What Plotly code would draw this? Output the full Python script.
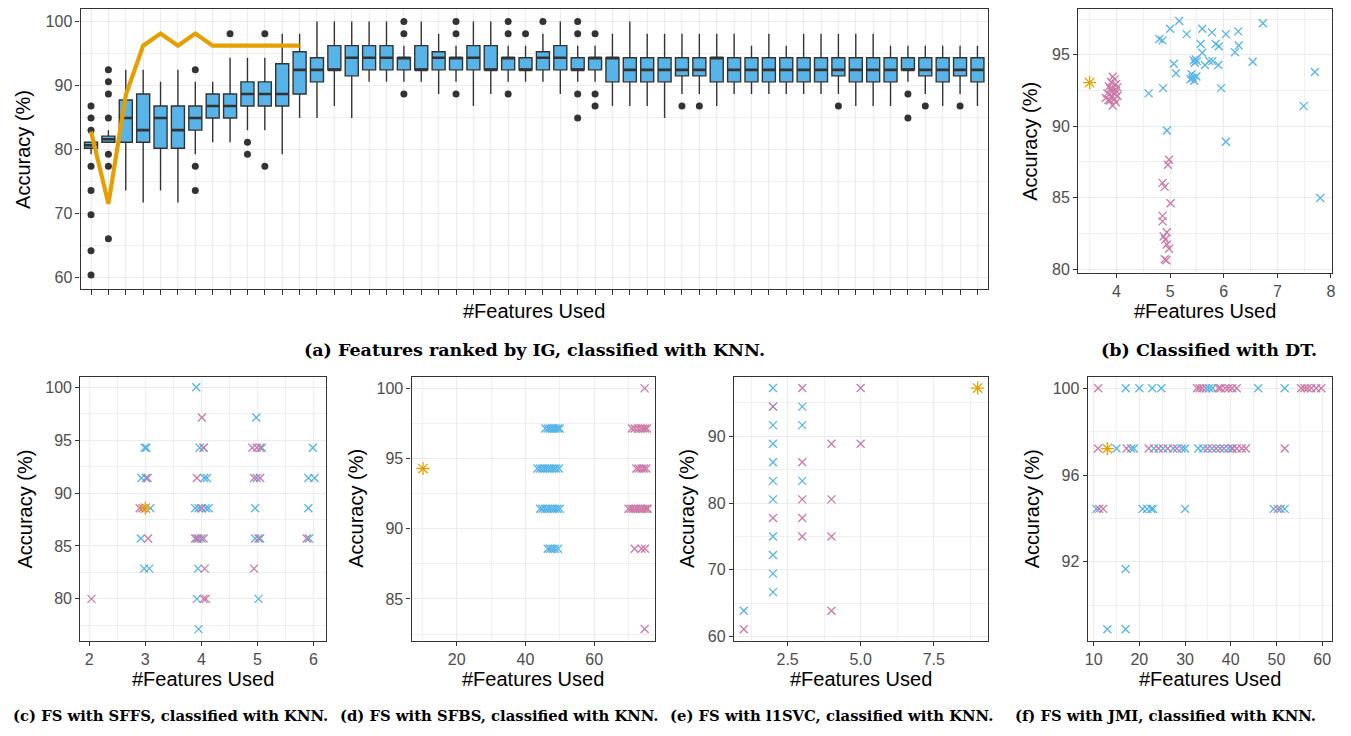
import plotly.graph_objects as go

W, H = 1351, 736
BLUE, PINK, ORANGE, DARK = "#56B4E9", "#CC79A7", "#E69F00", "#333333"

# ---------------- Panel (a): boxplots by #features (IG ranking) ----------------
a_pos = list(range(1, 53))
a_q1 = [80.19, 81.13, 81.13, 81.13, 80.19, 80.19, 83.02, 84.91, 84.91, 86.79,
        86.79, 86.79, 88.68, 90.57, 92.45, 91.51, 92.45, 92.45, 92.45, 92.45,
        92.45, 92.45, 92.45, 92.45, 92.45, 92.45, 92.45, 92.45, 92.45, 92.45,
        90.57, 90.57, 90.57, 90.57, 91.51, 91.51, 90.57, 90.57, 90.57, 90.57,
        90.57, 90.57, 90.57, 91.51, 90.57, 90.57, 90.57, 92.45, 91.51, 90.57,
        91.51, 90.57]
a_med = [80.66, 81.60, 84.91, 83.02, 84.91, 83.02, 84.91, 86.79, 86.79, 88.68,
         88.68, 88.68, 92.45, 92.45, 92.45, 94.34, 94.34, 94.34, 94.34, 92.45,
         94.34, 94.34, 94.34, 92.45, 94.34, 92.45, 94.34, 94.34, 92.45, 94.34,
         94.34, 92.45, 92.45, 92.45, 92.45, 92.45, 94.34, 92.45, 92.45, 92.45,
         92.45, 92.45, 92.45, 92.45, 92.45, 92.45, 92.45, 92.45, 92.45, 92.45,
         92.45, 92.45]
a_q3 = [81.13, 82.08, 87.74, 88.68, 86.79, 86.79, 86.79, 88.68, 88.68, 90.57,
        90.57, 93.40, 95.28, 94.34, 96.23, 96.23, 96.23, 96.23, 94.34, 96.23,
        95.28, 94.34, 96.23, 96.23, 94.34, 94.34, 95.28, 96.23, 94.34, 94.34,
        94.34, 94.34, 94.34, 94.34, 94.34, 94.34, 94.34, 94.34, 94.34, 94.34,
        94.34, 94.34, 94.34, 94.34, 94.34, 94.34, 94.34, 94.34, 94.34, 94.34,
        94.34, 94.34]
a_lo = [79.25, 81.13, 73.58, 71.70, 73.58, 71.70, 79.25, 81.13, 81.13, 83.02,
        83.02, 79.25, 84.91, 84.91, 86.79, 84.91, 90.57, 90.57, 90.57, 90.57,
        88.68, 90.57, 86.79, 88.68, 90.57, 90.57, 90.57, 88.68, 90.57, 90.57,
        86.79, 86.79, 86.79, 84.91, 88.68, 88.68, 86.79, 88.68, 88.68, 88.68,
        88.68, 88.68, 88.68, 88.68, 86.79, 86.79, 86.79, 90.57, 88.68, 86.79,
        88.68, 86.79]
a_hi = [81.13, 83.02, 92.45, 92.45, 90.57, 92.45, 90.57, 90.57, 94.34, 94.34,
        94.34, 98.11, 98.11, 100.0, 100.0, 100.0, 100.0, 100.0, 96.23, 100.0,
        98.11, 96.23, 100.0, 100.0, 96.23, 96.23, 98.11, 100.0, 96.23, 96.23,
        98.11, 100.0, 98.11, 98.11, 98.11, 98.11, 98.11, 98.11, 96.23, 98.11,
        96.23, 98.11, 98.11, 98.11, 98.11, 98.11, 96.23, 96.23, 96.23, 96.23,
        96.23, 96.23]
a_out_pos = [1, 1, 1, 1, 1, 1, 1, 1,
             2, 2, 2, 2, 2, 2, 2,
             7, 7, 7, 9, 10, 10, 11, 11,
             19, 19, 19, 22, 22, 22, 25, 25, 25, 26, 27,
             29, 29, 29, 29, 30, 30, 30, 35, 36, 44, 48, 48, 49, 51]
a_out_val = [86.79, 84.91, 83.02, 77.36, 73.58, 69.81, 64.15, 60.38,
             92.45, 90.57, 88.68, 84.91, 79.25, 77.36, 66.04,
             92.45, 77.36, 73.58, 98.11, 81.13, 79.25, 98.11, 77.36,
             100.0, 98.11, 88.68, 100.0, 98.11, 88.68, 100.0, 98.11, 88.68, 98.11, 100.0,
             100.0, 98.11, 88.68, 84.91, 98.11, 88.68, 86.79, 86.79, 86.79, 86.79,
             88.68, 84.91, 86.79, 86.79]
a_line_pos = list(range(1, 14))
a_line_val = [82.8, 71.5, 88.5, 96.23, 98.11, 96.23, 98.11, 96.23, 96.23, 96.23,
              96.23, 96.23, 96.23]

# ---------------- Panel (b): DT ----------------
b_blue_x = [4.60, 4.80, 4.86, 4.87, 4.94, 5.00, 5.07, 5.11, 5.17, 5.31, 5.38, 5.40,
            5.44, 5.45, 5.48, 5.49, 5.50, 5.57, 5.60, 5.60, 5.65, 5.73, 5.78, 5.79,
            5.85, 5.91, 5.90, 5.95, 6.04, 6.04, 6.21, 6.27, 6.28, 6.54, 6.73, 7.49,
            7.70, 7.80, 5.42, 5.46]
b_blue_y = [92.30, 96.11, 96.01, 92.67, 89.70, 96.82, 94.38, 93.71, 97.37, 96.45,
            93.29, 93.64, 94.61, 93.18, 94.68, 93.48, 94.56, 95.76, 96.82, 95.14,
            94.29, 94.56, 96.57, 94.56, 95.76, 95.60, 94.29, 92.67, 96.45, 88.92,
            95.18, 96.64, 95.65, 94.52, 97.21, 91.41, 93.80, 84.98, 93.40, 94.45]
b_pink_x = [3.93, 3.97, 3.90, 3.99, 3.86, 3.94, 3.99, 3.83, 3.91, 4.02, 3.80, 3.96,
            3.88, 3.99, 3.85, 3.93, 4.02, 3.92, 3.97, 3.88,
            4.98, 4.96, 4.86, 4.90, 5.01, 4.86, 4.86, 4.94, 4.88, 4.91, 4.94, 4.98,
            4.90, 4.93]
b_pink_y = [93.46, 93.30, 93.10, 92.95, 92.79, 92.65, 92.49, 92.30, 92.14, 92.14,
            91.98, 91.91, 91.80, 91.68, 91.84, 91.45, 92.72, 92.42, 92.26, 92.65,
            87.65, 87.30, 86.04, 85.76, 84.61, 83.73, 83.34, 82.58, 82.28, 82.07,
            81.73, 81.43, 80.69, 80.62]
b_best_x = [3.5]
b_best_y = [93.05]

# ---------------- Panel (c): SFFS ----------------
c_blue_x = [3.91, 4.98, 2.99, 3.02, 3.97, 4.04, 5.08, 5.99, 2.93, 3.01, 4.05, 4.10,
            4.99, 5.91, 6.02, 3.09, 3.89, 3.95, 4.01, 4.08, 4.13, 4.96, 5.91,
            2.92, 3.92, 4.00, 4.96, 5.05, 5.92, 2.98, 3.07, 3.94, 3.92, 5.02, 3.95]
c_blue_y = [100.0, 97.14, 94.29, 94.29, 94.29, 94.29, 94.29, 94.29, 91.43, 91.43,
            91.43, 91.43, 91.43, 91.43, 91.43, 88.57, 88.57, 88.57, 88.57, 88.57,
            88.57, 88.57, 88.57, 85.71, 85.71, 85.71, 85.71, 85.71, 85.71,
            82.86, 82.86, 82.86, 80.0, 80.0, 77.14]
c_pink_x = [2.04, 4.01, 4.91, 4.99, 5.05, 4.04, 3.04, 3.92, 4.94, 5.05, 2.90, 2.95,
            4.00, 3.05, 3.89, 3.95, 4.04, 5.02, 5.88, 4.06, 4.94, 4.04, 4.08]
c_pink_y = [80.0, 97.14, 94.29, 94.29, 94.29, 94.29, 91.43, 91.43, 91.43, 91.43,
            88.57, 88.57, 88.57, 85.71, 85.71, 85.71, 85.71, 85.71, 85.71, 82.86,
            82.86, 80.0, 80.0]
c_best_x = [3.0]
c_best_y = [88.57]

# ---------------- Panel (d): SFBS ----------------
d_blue_x = [45.8, 46.5, 47.2, 47.8, 48.3, 48.9, 49.5, 50.0,
            43.5, 44.3, 45.0, 45.7, 46.4, 47.0, 47.7, 48.4, 49.0, 49.8,
            44.3, 45.0, 45.8, 46.5, 47.2, 47.9, 48.6, 49.3, 50.0,
            46.5, 47.2, 47.9, 48.6, 49.5]
d_blue_y = [97.14] * 8 + [94.29] * 10 + [91.43] * 9 + [88.57] * 5
d_pink_x = [74.7,
            71.0, 71.8, 72.7, 73.5, 74.2, 74.8, 75.4,
            72.3, 73.0, 73.8, 74.5, 75.2,
            70.0, 70.7, 71.4, 72.1, 72.8, 73.5, 74.1, 74.7, 75.3, 75.6,
            71.8, 73.8, 74.8,
            74.7]
d_pink_y = [100.0] + [97.14] * 7 + [94.29] * 5 + [91.43] * 10 + [88.57] * 3 + [82.86]
d_best_x = [10.2]
d_best_y = [94.29]

# ---------------- Panel (e): l1SVC ----------------
e_blue_x = [2, 2, 2, 2, 2, 2, 2, 2, 2, 2, 2, 1, 3, 3, 3]
e_blue_y = [97.22, 94.44, 91.67, 88.89, 86.11, 83.33, 80.56, 75.0, 72.22, 69.44,
            66.67, 63.89, 94.44, 91.67, 83.33]
e_pink_x = [1, 2, 2, 3, 3, 3, 3, 3, 4, 4, 4, 4, 5, 5]
e_pink_y = [61.11, 94.44, 77.78, 97.22, 86.11, 80.56, 77.78, 75.0, 88.89, 80.56,
            75.0, 63.89, 97.22, 88.89]
e_best_x = [9]
e_best_y = [97.22]

# ---------------- Panel (f): JMI ----------------
f_blue_x = [17.0, 20.0, 22.8, 24.8, 34.6, 35.3, 36.0, 46.0, 51.8,
            15.0, 18.2, 18.8, 23.2, 25.2, 27.4, 29.3, 30.0, 32.9, 34.0, 35.9, 37.7,
            39.5, 40.2,
            10.6, 20.7, 21.7, 22.6, 23.0, 30.0, 49.4, 50.9, 51.8,
            17.0, 13.0, 17.0]
f_blue_y = [100.0] * 9 + [97.22] * 14 + [94.44] * 9 + [91.67, 88.89, 88.89]
f_pink_x = [11.0, 32.6, 33.2, 33.8, 37.3, 37.8, 38.8, 39.5, 40.3, 41.3,
            55.4, 56.1, 56.8, 57.6, 58.7, 59.8,
            10.95, 17.2, 22.05, 24.2, 26.2, 28.2, 34.9, 36.8, 38.5, 40.4, 41.3,
            42.4, 43.3, 51.8,
            11.2, 12.1, 50.3]
f_pink_y = [100.0] * 16 + [97.22] * 14 + [94.44] * 3
f_best_x = [13.0]
f_best_y = [97.22]

# ---------------- Layout helpers ----------------
def dom_x(l, r):
    return [l / W, r / W]

def dom_y(t, b):
    return [1 - b / H, 1 - t / H]

TICKFONT = dict(family="Liberation Sans, Arial", size=16, color="#4D4D4D")

def axis(domain, rng, tickvals=None, ticktext=None, minor_vals=None, anchor=None,
         showlabels=True, ticklen=4):
    d = dict(domain=domain, range=rng, showline=True, mirror=True, linecolor=DARK,
             linewidth=1.2, ticks="outside", ticklen=ticklen, tickwidth=1.1,
             tickcolor=DARK, showgrid=True, gridcolor="#EBEBEB", gridwidth=1.2,
             zeroline=False, tickfont=TICKFONT, showticklabels=showlabels,
             anchor=anchor, fixedrange=True)
    if tickvals is not None:
        d["tickmode"] = "array"
        d["tickvals"] = tickvals
        if ticktext is not None:
            d["ticktext"] = ticktext
    if minor_vals is not None:
        d["minor"] = dict(tickmode="array", tickvals=minor_vals, showgrid=True,
                          gridcolor="#F0F0F0", gridwidth=0.7, ticks="")
    return d

panels = {
    # name: (left, top, right, bottom)
    "a": (78, 9, 990, 291),
    "b": (1080.7, 9.3, 1335.7, 275),
    "c": (77.7, 379.3, 325, 645),
    "d": (410.7, 379.3, 655, 645),
    "e": (734.7, 379.3, 990, 645),
    "f": (1090.3, 379.3, 1335.7, 645),
}

fig = go.Figure()

# Panel (a) traces
fig.add_trace(go.Box(x=a_pos, q1=a_q1, median=a_med, q3=a_q3, lowerfence=a_lo,
                     upperfence=a_hi, fillcolor=BLUE, line=dict(color=DARK, width=1.4),
                     width=0.75, whiskerwidth=0, boxpoints=False, showlegend=False,
                     xaxis="x", yaxis="y"))
med_x, med_y = [], []
for p, m in zip(a_pos, a_med):
    med_x += [p - 0.375, p + 0.375, None]
    med_y += [m, m, None]
fig.add_trace(go.Scatter(x=med_x, y=med_y, mode="lines", line=dict(color=DARK, width=2.6),
                         showlegend=False, xaxis="x", yaxis="y", hoverinfo="skip"))
fig.add_trace(go.Scatter(x=a_out_pos, y=a_out_val, mode="markers",
                         marker=dict(size=7, color=DARK), showlegend=False,
                         xaxis="x", yaxis="y"))
fig.add_trace(go.Scatter(x=a_line_pos, y=a_line_val, mode="lines",
                         line=dict(color=ORANGE, width=4.2), showlegend=False,
                         xaxis="x", yaxis="y"))

def add_scatter(xs, ys, color, symbol, size, xa, ya):
    fig.add_trace(go.Scatter(x=xs, y=ys, mode="markers",
                             marker=dict(symbol=symbol, size=size, color=color,
                                         line=dict(width=1.3, color=color)),
                             showlegend=False, xaxis=xa, yaxis=ya))

sets = [
    ("x2", "y2", b_blue_x, b_blue_y, b_pink_x, b_pink_y, b_best_x, b_best_y),
    ("x3", "y3", c_blue_x, c_blue_y, c_pink_x, c_pink_y, c_best_x, c_best_y),
    ("x4", "y4", d_blue_x, d_blue_y, d_pink_x, d_pink_y, d_best_x, d_best_y),
    ("x5", "y5", e_blue_x, e_blue_y, e_pink_x, e_pink_y, e_best_x, e_best_y),
    ("x6", "y6", f_blue_x, f_blue_y, f_pink_x, f_pink_y, f_best_x, f_best_y),
]
for xa, ya, bx, by, px, py, sx, sy in sets:
    add_scatter(bx, by, BLUE, "x-thin", 8, xa, ya)
    add_scatter(px, py, PINK, "x-thin", 8, xa, ya)
    add_scatter(sx, sy, ORANGE, "asterisk", 11, xa, ya)

L = lambda k: panels[k]
layout = dict(width=W, height=H, margin=dict(l=0, r=0, t=0, b=0),
              paper_bgcolor="white", plot_bgcolor="white", showlegend=False)

la = L("a")
layout["xaxis"] = axis(dom_x(la[0], la[2]), [0.4, 52.6], tickvals=a_pos,
                       anchor="y", showlabels=False, ticklen=5)
layout["yaxis"] = axis(dom_y(la[1], la[3]), [58.18, 101.97],
                       tickvals=[60, 70, 80, 90, 100], minor_vals=[65, 75, 85, 95],
                       anchor="x")

lb = L("b")
layout["xaxis2"] = axis(dom_x(lb[0], lb[2]), [3.285, 8.015], tickvals=[4, 5, 6, 7, 8],
                        minor_vals=[3.5, 4.5, 5.5, 6.5, 7.5], anchor="y2")
layout["yaxis2"] = axis(dom_y(lb[1], lb[3]), [79.72, 98.19], tickvals=[80, 85, 90, 95],
                        minor_vals=[82.5, 87.5, 92.5, 97.5], anchor="x2")

lc = L("c")
layout["xaxis3"] = axis(dom_x(lc[0], lc[2]), [1.84, 6.23], tickvals=[2, 3, 4, 5, 6],
                        minor_vals=[2.5, 3.5, 4.5, 5.5], anchor="y3")
layout["yaxis3"] = axis(dom_y(lc[1], lc[3]), [76.05, 101.0],
                        tickvals=[80, 85, 90, 95, 100],
                        minor_vals=[77.5, 82.5, 87.5, 92.5, 97.5], anchor="x3")

ld = L("d")
layout["xaxis4"] = axis(dom_x(ld[0], ld[2]), [6.88, 77.6], tickvals=[20, 40, 60],
                        minor_vals=[10, 30, 50, 70], anchor="y4")
layout["yaxis4"] = axis(dom_y(ld[1], ld[3]), [82.03, 100.83],
                        tickvals=[85, 90, 95, 100],
                        minor_vals=[82.5, 87.5, 92.5, 97.5], anchor="x4")

le = L("e")
layout["xaxis5"] = axis(dom_x(le[0], le[2]), [0.663, 9.35], tickvals=[2.5, 5.0, 7.5],
                        ticktext=["2.5", "5.0", "7.5"],
                        minor_vals=[1.25, 3.75, 6.25, 8.75], anchor="y5")
layout["yaxis5"] = axis(dom_y(le[1], le[3]), [59.41, 98.92],
                        tickvals=[60, 70, 80, 90],
                        minor_vals=[65, 75, 85, 95], anchor="x5")

lf = L("f")
layout["xaxis6"] = axis(dom_x(lf[0], lf[2]), [8.69, 62.1],
                        tickvals=[10, 20, 30, 40, 50, 60],
                        minor_vals=[15, 25, 35, 45, 55], anchor="y6")
layout["yaxis6"] = axis(dom_y(lf[1], lf[3]), [88.37, 100.53],
                        tickvals=[92, 96, 100], minor_vals=[90, 94, 98], anchor="x6")

TITLEFONT = dict(family="Liberation Sans, Arial", size=20, color="black")
CAPFONT_TOP = dict(family="DejaVu Serif", size=17.5, color="black")
CAPFONT = dict(family="DejaVu Serif", size=14.8, color="black")

annotations = []

def txt(x, y, s, font, angle=0):
    annotations.append(dict(x=x / W, y=1 - y / H, xref="paper", yref="paper",
                            text=s, showarrow=False, font=font, textangle=angle,
                            xanchor="center", yanchor="middle"))

# axis titles
ytitle_x = {"a": 20, "b": 1033, "c": 22, "d": 355, "e": 687, "f": 1034}
xtitle_y = {"a": 313, "b": 313, "c": 684, "d": 684, "e": 684, "f": 684}
for k, (l, t, r, b) in panels.items():
    txt((l + r) / 2, xtitle_y[k], "#Features Used", TITLEFONT)
    txt(ytitle_x[k], (t + b) / 2, "Accuracy (%)", TITLEFONT, angle=-90)

# captions
txt(534, 352, "<b>(a) Features ranked by IG, classified with KNN.</b>", CAPFONT_TOP)
txt(1212, 352, "<b>(b) Classified with DT.</b>", CAPFONT_TOP)
txt(168, 720, "<b>(c) FS with SFFS, classified with KNN.</b>", CAPFONT)
txt(499, 720, "<b>(d) FS with SFBS, classified with KNN.</b>", CAPFONT)
txt(833, 720, "<b>(e) FS with l1SVC, classified with KNN.</b>", CAPFONT)
txt(1169, 720, "<b>(f) FS with JMI, classified with KNN.</b>", CAPFONT)

layout["annotations"] = annotations
fig.update_layout(**layout)
fig.write_html("out.html", config={"displayModeBar": False},
               post_script="document.body.style.margin='0';document.body.style.overflow='hidden';")
